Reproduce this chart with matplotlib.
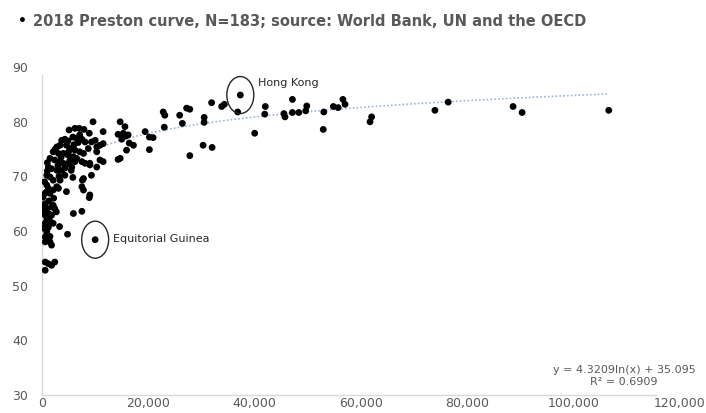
import numpy as np
import matplotlib
matplotlib.use("Agg")
import matplotlib.pyplot as plt
from matplotlib.patches import Ellipse
from matplotlib.ticker import FuncFormatter

# GDP per capita (thousand US$) and life expectancy (years), 2018
gdp_k = [
    30.5, 30.5, 31.9, 33.8, 34.3, 37.3, 36.8, 40.0, 30.3, 32.0,
    42.0, 41.9, 45.5, 45.7, 47.1, 47.1, 48.3, 49.6, 49.8, 53.0,
    52.9, 54.8, 55.7, 56.6, 57.0, 61.7, 62.0, 73.9, 76.4, 88.6,
    90.3, 106.6,
    22.8, 23.1, 25.9, 27.2, 27.8, 23.0, 26.4, 27.8,
    14.7, 15.6, 11.5, 14.3, 15.3, 15.8, 16.2, 15.0, 16.4, 17.2,
    15.9, 14.3, 14.7, 19.4, 20.2, 20.9, 20.2, 9.3, 10.0, 11.5,
    10.3, 10.9, 10.3, 10.9, 11.5, 9.0, 9.6,
    5.1, 6.2, 7.0, 7.9, 7.1, 8.9, 3.7, 4.3, 4.9, 5.8,
    6.5, 7.5, 8.1, 2.8, 3.4, 4.6, 5.3, 6.2, 7.1, 7.8,
    8.7, 2.1, 3.1, 4.0, 4.9, 5.9, 6.5, 7.5, 8.1, 9.0,
    1.5, 2.4, 3.4, 4.0, 4.6, 5.6, 6.2, 1.2, 1.8, 2.8,
    3.7, 4.3, 7.8, 9.3, 10.3, 0.9, 1.5, 2.1, 3.4, 0.9,
    1.2, 2.1, 3.1, 4.6, 7.5, 7.8, 9.0, 0.6, 0.2,
    0.9, 1.5, 0.6, 0.9, 1.2, 0.6, 1.5, 0.9, 0.6, 1.5,
    1.2, 0.9, 0.6, 1.2, 1.5, 1.8, 0.6,
    8.9, 7.5, 5.9, 3.3, 4.8, 10.0, 0.6, 1.2, 1.8, 2.4, 0.6,
    5.5, 5.8, 7.6, 2.8,
    2.1, 2.4, 1.8, 0.3, 1.8, 2.1, 0.3, 0.9, 1.5, 2.7,
    2.5, 3.6, 5.2, 4.3, 6.8, 1.0, 0.5, 3.2,
    1.3, 0.4, 2.2, 6.0, 3.0, 1.0, 5.0,
]
life_exp = [
    80.8, 79.9, 83.5, 82.8, 83.2, 84.9, 81.8, 77.9, 75.7, 75.3,
    82.8, 81.4, 81.5, 80.9, 84.1, 81.7, 81.7, 82.0, 82.9, 81.8,
    78.6, 82.8, 82.6, 84.1, 83.2, 80.0, 80.9, 82.1, 83.6, 82.8,
    81.7, 82.1,
    81.8, 81.2, 81.2, 82.5, 82.3, 79.0, 79.7, 73.8,
    80.0, 79.1, 78.2, 77.7, 77.9, 77.4, 77.6, 76.8, 76.1, 75.7,
    74.8, 73.1, 73.3, 78.2, 77.2, 77.1, 74.9, 76.3, 76.6, 76.0,
    75.4, 75.7, 74.5, 73.0, 72.7, 72.4, 80.0,
    78.5, 78.8, 78.8, 78.6, 77.6, 77.9, 76.6, 76.8, 76.5, 77.2,
    77.0, 76.8, 76.3, 75.4, 75.7, 75.7, 75.1, 74.8, 74.5, 74.2,
    75.1, 74.5, 74.2, 74.2, 73.9, 73.6, 73.3, 72.7, 72.4, 72.1,
    73.3, 73.0, 72.7, 72.4, 72.2, 71.7, 72.7, 71.7, 71.4, 71.1,
    71.1, 70.2, 69.6, 70.2, 71.7, 70.2, 69.9, 69.3, 69.3, 68.4,
    67.8, 67.5, 67.8, 67.2, 68.1, 67.5, 66.6, 66.9, 66.2,
    67.2, 66.9, 65.0, 64.1, 63.2, 62.9, 62.6, 62.0, 61.4, 61.7,
    60.7, 59.8, 58.9, 58.6, 58.0, 57.4, 58.0,
    66.1, 63.6, 63.2, 60.8, 59.4, 58.4, 54.3, 54.0, 53.7, 54.3, 52.8,
    71.1, 69.8, 69.3, 68.1,
    64.7, 64.1, 64.4, 63.8, 62.9, 61.4, 60.5, 60.2, 59.0, 63.5,
    75.0, 73.5, 72.8, 71.5, 76.2, 71.0, 69.0, 70.0,
    65.5, 64.6, 66.0, 75.8, 72.0, 72.5, 74.5,
]

# Logarithmic trendline fitted to the series
trend_a = 4.3209
trend_b = 35.095
r_squared = 0.6909

highlights = {"Hong Kong": (37.3, 84.9), "Equitorial Guinea": (10.0, 58.4)}

x_ticks = [0, 20000, 40000, 60000, 80000, 100000, 120000]
y_ticks = [30, 40, 50, 60, 70, 80, 90]

gdp = np.array(gdp_k) * 1000.0
life = np.array(life_exp)

W, H = 706, 413
fig = plt.figure(figsize=(W / 100, H / 100), dpi=100)
fig.patch.set_facecolor("white")

ax = fig.add_axes([42 / W, (H - 394.7) / H, 638 / W, 327.5 / H])
ax.set_xlim(0, 120000)
ax.set_ylim(30, 90)

grey = "#595959"
axis_grey = "#D9D9D9"

# trendline (Excel-style dotted)
xt = np.linspace(gdp.min(), gdp.max(), 400)
yt = trend_a * np.log(xt) + trend_b
ax.plot(xt, yt, color="#9DB4DE", lw=1.2, linestyle=(0, (1, 1.3)), zorder=2)

ax.scatter(gdp, life, s=24, color="black", edgecolors="none", zorder=3)

# highlighted countries: ellipse + label
px_per_x = 638 / 120000
px_per_y = 327.5 / 60
for name, (gx, ly) in highlights.items():
    ell = Ellipse((gx * 1000, ly), width=27 / px_per_x, height=37 / px_per_y,
                  fill=False, edgecolor="#262626", lw=1.0, zorder=4)
    ax.add_patch(ell)

ax.annotate("Hong Kong", xy=(highlights["Hong Kong"][0] * 1000, highlights["Hong Kong"][1]),
            xytext=(12.5, 8.5), textcoords="offset points", fontsize=8,
            color="#262626", ha="left", va="center")
ax.annotate("Equitorial Guinea",
            xy=(highlights["Equitorial Guinea"][0] * 1000, highlights["Equitorial Guinea"][1]),
            xytext=(13, 0.3), textcoords="offset points", fontsize=8,
            color="#262626", ha="left", va="center")

ax.set_xticks(x_ticks)
ax.set_yticks(y_ticks)
ax.xaxis.set_major_formatter(FuncFormatter(lambda v, p: f"{int(v):,}"))
ax.tick_params(axis="both", length=0, labelsize=9, labelcolor=grey)
ax.tick_params(axis="y", pad=10)
ax.tick_params(axis="x", pad=1.5)

for side in ("top", "right"):
    ax.spines[side].set_visible(False)
for side in ("left", "bottom"):
    ax.spines[side].set_color(axis_grey)
    ax.spines[side].set_linewidth(1.0)
# axis lines stop a little short of the last tick labels
ax.spines["bottom"].set_bounds(0, 115500)
ax.spines["left"].set_bounds(30, 88.6)

# trendline equation
fig.text(624 / W, 1 - 376 / H,
         f"y = {trend_a}ln(x) + {trend_b}\nR\u00b2 = {r_squared}",
         ha="center", va="center", multialignment="center",
         fontsize=8, color=grey, linespacing=1.25)

# title with bullet
fig.text(22 / W, 1 - 21 / H, "\u2022", fontsize=10, color="black",
         ha="center", va="center", fontweight="bold")
fig.text(33 / W, 1 - 21 / H,
         "2018 Preston curve, N=183; source: World Bank, UN and the OECD",
         fontsize=10.5, color=grey, fontweight="bold", ha="left", va="center")

fig.savefig("out.png", dpi=100, facecolor="white")
